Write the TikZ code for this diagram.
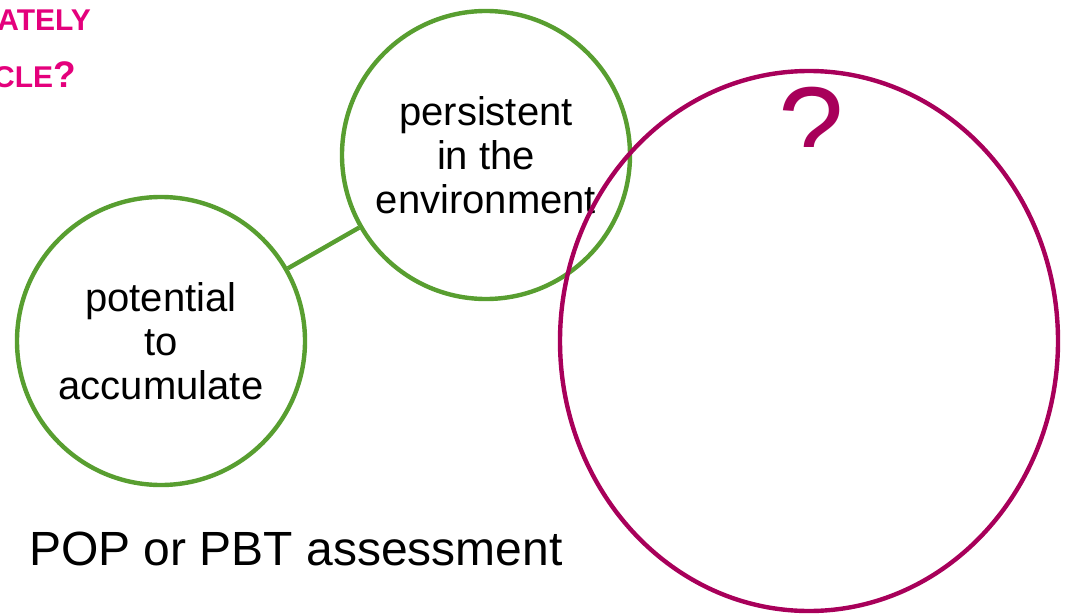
\documentclass[tikz,border=0pt]{standalone}
\usepackage{fontspec}
\setmainfont{Liberation Sans}
\usetikzlibrary{shapes.geometric}
\definecolor{leafgreen}{RGB}{88,158,48}
\definecolor{plum}{RGB}{168,0,90}
\definecolor{pinkhead}{RGB}{228,0,124}
\tikzset{
  topic/.style={circle, draw=leafgreen, line width=4.4pt, minimum size=288pt,
    inner sep=0pt, align=center, font=\fontsize{40}{44}\selectfont},
  link/.style={draw=leafgreen, line width=4.4pt},
  headline/.style={text=pinkhead, font=\fontsize{30}{32}\selectfont\bfseries, inner sep=0pt},
}
\begin{document}
\begin{tikzpicture}[x=1pt,y=-1pt]
  \useasboundingbox (0,0) rectangle (1065,615);
  \clip (0,0) rectangle (1065,615);
  % cropped title lines at the top left
  \node[headline, anchor=base east] (t1) at (91,31) {ATELY};
  \node[headline, anchor=base east] (t2) at (76,88) {CLE{\fontsize{37}{37}\selectfont ?}};
  % the two known criteria
  \node[topic] (acc) at (161,341) {potential\\to\\accumulate};
  \node[topic] (pers) at (486,155) {persistent\\in the\\environment};
  \draw[link] (acc) -- (pers);
  % the open criterion
  \node[ellipse, draw=plum, line width=4.4pt, minimum width=498pt, minimum height=540pt,
    inner sep=0pt] (unknown) at (809,341) {};
  \begin{scope}
    \clip (760,60) rectangle (870,146);
    \node[text=plum, font=\fontsize{118}{118}\selectfont, inner sep=0pt, anchor=base] (qm) at (811,169) {?};
  \end{scope}
  % caption
  \node[anchor=base west, inner sep=0pt, font=\fontsize{48}{50}\selectfont] (cap) at (29,565) {POP or PBT assessment};
\end{tikzpicture}
\end{document}
